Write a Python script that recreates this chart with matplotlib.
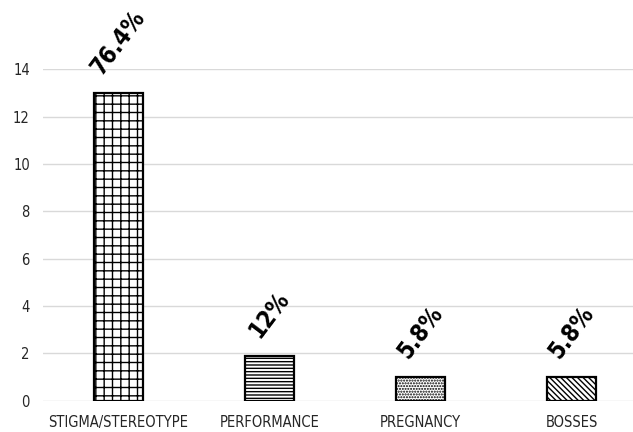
import matplotlib
matplotlib.use("Agg")
import matplotlib.pyplot as plt

categories = ["STIGMA/STEREOTYPE", "PERFORMANCE", "PREGNANCY", "BOSSES"]
counts = [13, 1.9, 1, 1]
pct_labels = ["76.4%", "12%", "5.8%", "5.8%"]
hatches = ["++", "-----", "......", "\\\\\\\\\\\\"]
y_ticks = [0, 2, 4, 6, 8, 10, 12, 14]

plt.rcParams["hatch.linewidth"] = 1.0

fig = plt.figure(figsize=(6.33, 4.32), dpi=100)
ax = fig.add_axes([0.068, 0.072, 0.954, 0.768])

x = list(range(len(categories)))
for i in x:
    ax.bar(i, counts[i], width=0.32, color="white", edgecolor="black",
           linewidth=1.6, hatch=hatches[i], zorder=3)
    # rotated percentage label above each bar
    ax.annotate(pct_labels[i], (i, counts[i]), xytext=(0, 10),
                textcoords="offset points", ha="center", va="bottom",
                rotation=53, fontsize=17, fontweight="bold",
                fontstretch="condensed", family="DejaVu Sans",
                annotation_clip=False)

ax.set_xlim(-0.5, 3.5)
ax.set_ylim(0, 14)
ax.set_yticks(y_ticks)
ax.set_xticks(x)
ax.set_xticklabels(categories)
ax.grid(axis="y", color="#d9d9d9", linewidth=1, zorder=0)
for s in ax.spines.values():
    s.set_visible(False)
ax.tick_params(length=0, colors="#262626", labelsize=10.5, pad=10)
for lab in ax.get_xticklabels() + ax.get_yticklabels():
    lab.set_fontstretch("condensed")
ax.tick_params(axis="y", pad=9.5)

fig.savefig("out.png", dpi=100)
